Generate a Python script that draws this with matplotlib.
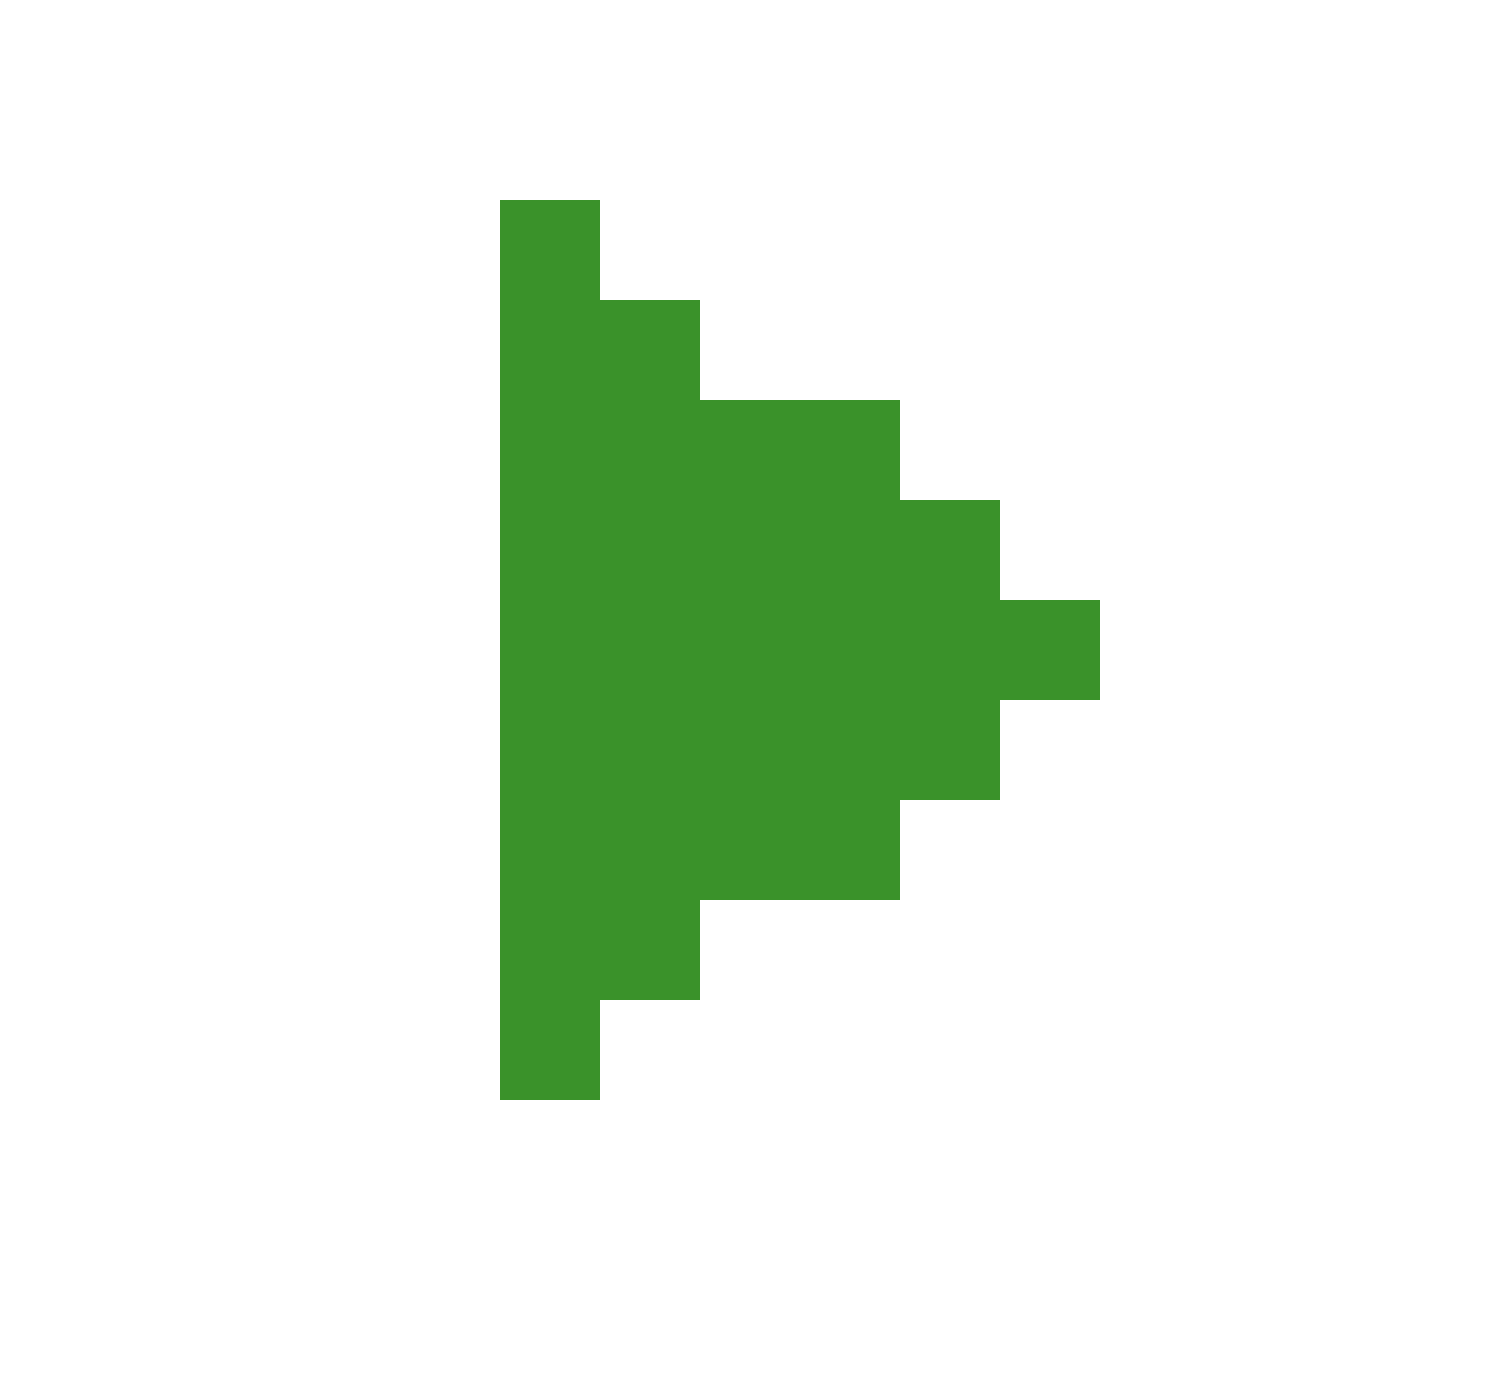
import matplotlib
matplotlib.use("Agg")
import matplotlib.pyplot as plt

# Pixel-art rows (row index from top) and run of filled cells in each row
rows = [2, 3, 4, 5, 6, 7, 8, 9, 10]
starts = [5, 5, 5, 5, 5, 5, 5, 5, 5]
lengths = [1, 2, 4, 5, 6, 5, 4, 2, 1]
n_cols = 15
n_rows = 14
color = "#3A922A"

fig = plt.figure(figsize=(15, 14), dpi=100)
ax = fig.add_axes([0, 0, 1, 1])
ax.barh([r + 0.5 for r in rows], lengths, left=starts, height=1.0,
        color=color, linewidth=0, antialiased=False)
ax.set_xlim(0, n_cols)
ax.set_ylim(n_rows, 0)
ax.axis("off")
fig.savefig("out.png", dpi=100, facecolor="white")
